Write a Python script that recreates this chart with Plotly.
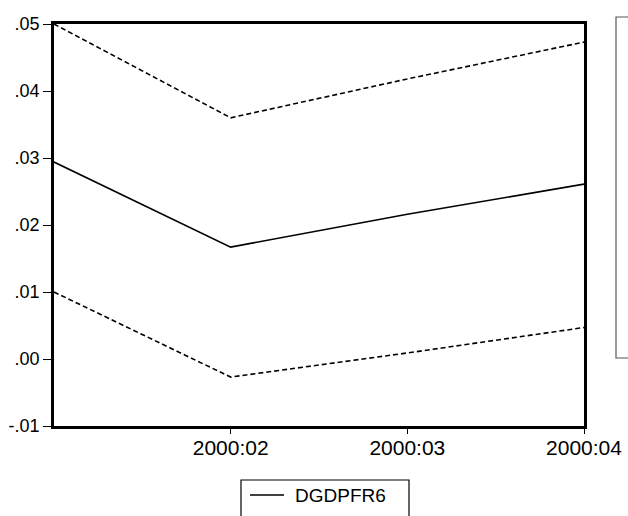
import plotly.graph_objects as go

# Quarterly forecast of DGDPFR6 with +/- 2 S.E. bands
periods = ["2000:01", "2000:02", "2000:03", "2000:04"]
forecast = [0.0294, 0.0167, 0.0216, 0.0261]
upper_band = [0.0500, 0.0360, 0.0418, 0.0473]
lower_band = [0.0100, -0.0027, 0.0009, 0.0047]

y_ticks = [-0.01, 0.00, 0.01, 0.02, 0.03, 0.04, 0.05]
y_tick_text = ["-.01", ".00", ".01", ".02", ".03", ".04", ".05"]
x_tick_labels = ["2000:02", "2000:03", "2000:04"]
series_name = "DGDPFR6"

font_family = "Liberation Sans, Arial, sans-serif"

W, H = 628, 516
ML, MR, MT, MB = 54, 44, 24, 90
PW, PH = W - ML - MR, H - MT - MB


def px_x(x):
    return (x - ML) / PW


def px_y(y):
    return (H - MB - y) / PH


fig = go.Figure()
fig.add_trace(go.Scatter(
    x=periods, y=forecast, mode="lines", name=series_name,
    line=dict(color="black", width=1.6),
))
for band in (upper_band, lower_band):
    fig.add_trace(go.Scatter(
        x=periods, y=band, mode="lines",
        line=dict(color="black", width=1.6, dash="5px,3px"),
    ))

fig.update_layout(
    width=W, height=H,
    margin=dict(l=ML, r=MR, t=MT, b=MB, autoexpand=False),
    paper_bgcolor="white", plot_bgcolor="white",
    font=dict(family=font_family, color="black", size=17),
    showlegend=False,
    xaxis=dict(
        type="category", range=[0, 3],
        tickvals=x_tick_labels, ticktext=x_tick_labels,
        ticks="outside", ticklen=5, tickwidth=1.2, tickcolor="black",
        tickfont=dict(size=21), ticklabelstandoff=-4,
        showline=True, linecolor="black", linewidth=2.5, mirror=True,
        showgrid=False, zeroline=False,
    ),
    yaxis=dict(
        range=[-0.01, 0.05],
        tickvals=y_ticks, ticktext=y_tick_text,
        ticks="outside", ticklen=8, tickwidth=1.2, tickcolor="black",
        tickfont=dict(size=18),
        showline=True, linecolor="black", linewidth=2.5, mirror=True,
        showgrid=False, zeroline=False,
    ),
)

# Legend key below the plot: box, line sample and series name
fig.add_shape(
    type="rect", xref="paper", yref="paper",
    x0=px_x(241), x1=px_x(409), y0=px_y(530), y1=px_y(480),
    line=dict(color="black", width=1.2), fillcolor="rgba(0,0,0,0)",
)
fig.add_shape(
    type="line", xref="paper", yref="paper",
    x0=px_x(250), x1=px_x(284), y0=px_y(495), y1=px_y(495),
    line=dict(color="black", width=1.6),
)
fig.add_annotation(
    xref="paper", yref="paper", x=px_x(293), y=px_y(495),
    xanchor="left", yanchor="middle", showarrow=False,
    text=series_name, font=dict(size=19, family=font_family),
)

# Edge of the neighbouring panel at the right border
fig.add_shape(
    type="rect", xref="paper", yref="paper",
    x0=px_x(616), x1=px_x(660), y0=px_y(358), y1=px_y(17),
    line=dict(color="#555555", width=1.2), fillcolor="rgba(0,0,0,0)",
)

fig.write_html("out.html")
